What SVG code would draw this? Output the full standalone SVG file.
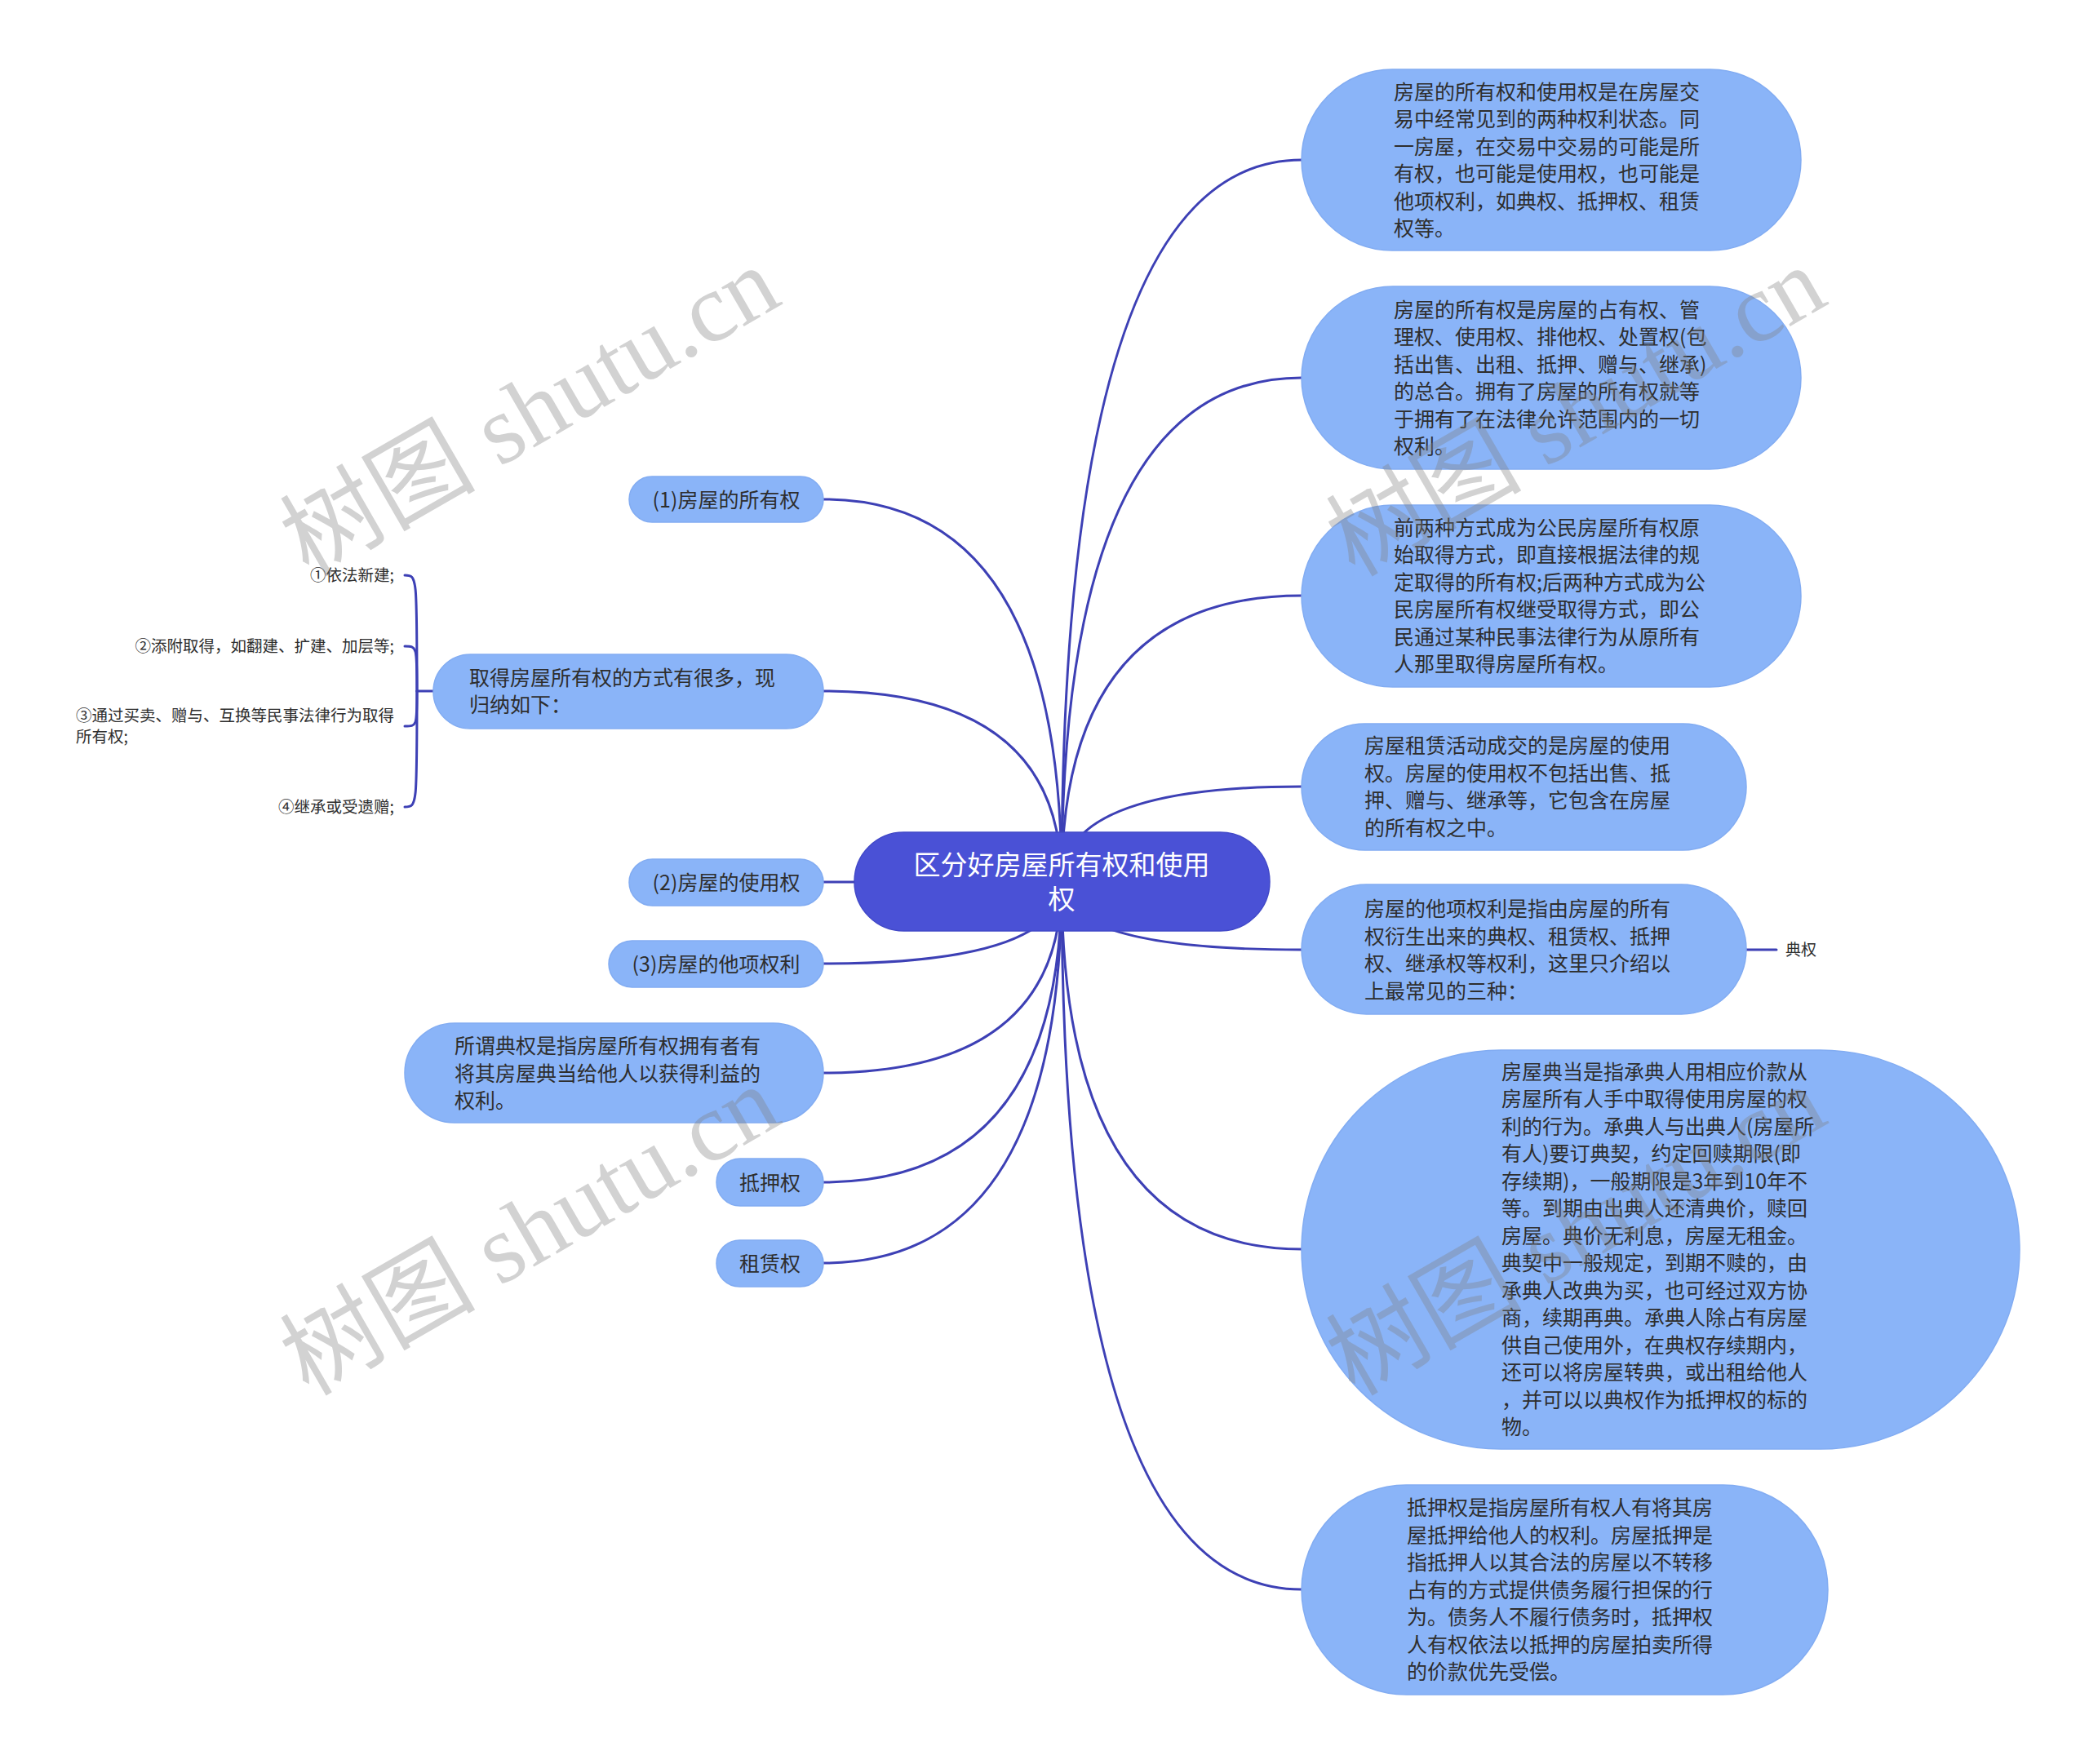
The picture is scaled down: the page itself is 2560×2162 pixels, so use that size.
<svg xmlns="http://www.w3.org/2000/svg" width="2560" height="2162" viewBox="0 0 2560 2162">
<style>
.bg{fill:#ffffff}
.edge{fill:none;stroke:#3d40b5;stroke-width:3;stroke-linecap:round}
.node{fill:#8ab4f8;stroke:#82acf2;stroke-width:1.5}
.root{fill:#4a51d6;stroke:#4249c8;stroke-width:1.5}
.t{font-family:"Noto Sans CJK SC","Liberation Sans",sans-serif;font-size:25px;fill:#2e2e2e}
.tc{text-anchor:middle}
.rt{font-family:"Noto Sans CJK SC","Liberation Sans",sans-serif;font-size:33px;fill:#ffffff;text-anchor:middle}
.st{font-family:"Noto Sans CJK SC","Liberation Sans",sans-serif;font-size:19.5px;fill:#2e2e2e}
.wm{font-size:120px;fill:#7f7f7f;opacity:0.35}
.wmc{font-family:"Noto Sans CJK SC",sans-serif}
.wms{font-family:"Liberation Serif",serif}
</style>
<rect class="bg" x="0" y="0" width="2560" height="2162"/>

<g id="connectors">
  <path class="edge" d="M1301,1081 Q1301,196 1595,196"/>
  <path class="edge" d="M1301,1081 Q1301,463 1595,463"/>
  <path class="edge" d="M1301,1081 Q1301,730 1595,730"/>
  <path class="edge" d="M1301,1081 Q1301,964 1595,964"/>
  <path class="edge" d="M1301,1081 Q1301,1164 1595,1164"/>
  <path class="edge" d="M1301,1081 Q1301,1531 1595,1531"/>
  <path class="edge" d="M1301,1081 Q1301,1948 1595,1948"/>
  <path class="edge" d="M1301,1081 Q1301,612 1009,612"/>
  <path class="edge" d="M1301,1081 Q1301,847 1009,847"/>
  <path class="edge" d="M1301,1081 L1009,1081"/>
  <path class="edge" d="M1301,1081 Q1301,1181 1009,1181"/>
  <path class="edge" d="M1301,1081 Q1301,1315 1009,1315"/>
  <path class="edge" d="M1301,1081 Q1301,1449 1009,1449"/>
  <path class="edge" d="M1301,1081 Q1301,1548 1009,1548"/>
  <path class="edge" d="M2140,1164 L2177,1164"/>
  <path class="edge" d="M531,847 L511,847"/>
  <path class="edge" d="M511,847 C511,705 511,705 496,705"/>
  <path class="edge" d="M511,847 C511,792 511,792 496,792"/>
  <path class="edge" d="M511,847 C511,890 511,890 496,890"/>
  <path class="edge" d="M511,847 C511,989 511,989 496,989"/>
</g>

<g id="root">
  <rect class="root" x="1047" y="1020" width="509" height="121" rx="60.5"/>
  <text class="rt" x="1301" y="1072">区分好房屋所有权和使用</text>
  <text class="rt" x="1301" y="1114">权</text>
</g>

<g id="r1">
  <rect class="node" x="1595" y="85" width="612" height="222" rx="111"/>
  <text class="t"><tspan x="1708" y="121.75">房屋的所有权和使用权是在房屋交</tspan><tspan x="1708" dy="33.5">易中经常见到的两种权利状态。同</tspan><tspan x="1708" dy="33.5">一房屋，在交易中交易的可能是所</tspan><tspan x="1708" dy="33.5">有权，也可能是使用权，也可能是</tspan><tspan x="1708" dy="33.5">他项权利，如典权、抵押权、租赁</tspan><tspan x="1708" dy="33.5">权等。</tspan></text>
</g>

<g id="r2">
  <rect class="node" x="1595" y="351" width="612" height="224" rx="112"/>
  <text class="t"><tspan x="1708" y="388.75">房屋的所有权是房屋的占有权、管</tspan><tspan x="1708" dy="33.5">理权、使用权、排他权、处置权(包</tspan><tspan x="1708" dy="33.5">括出售、出租、抵押、赠与、继承)</tspan><tspan x="1708" dy="33.5">的总合。拥有了房屋的所有权就等</tspan><tspan x="1708" dy="33.5">于拥有了在法律允许范围内的一切</tspan><tspan x="1708" dy="33.5">权利。</tspan></text>
</g>

<g id="r3">
  <rect class="node" x="1595" y="619" width="612" height="223" rx="111.5"/>
  <text class="t"><tspan x="1708" y="655.75">前两种方式成为公民房屋所有权原</tspan><tspan x="1708" dy="33.5">始取得方式，即直接根据法律的规</tspan><tspan x="1708" dy="33.5">定取得的所有权;后两种方式成为公</tspan><tspan x="1708" dy="33.5">民房屋所有权继受取得方式，即公</tspan><tspan x="1708" dy="33.5">民通过某种民事法律行为从原所有</tspan><tspan x="1708" dy="33.5">人那里取得房屋所有权。</tspan></text>
</g>

<g id="r4">
  <rect class="node" x="1595" y="887" width="545" height="155" rx="77.5"/>
  <text class="t"><tspan x="1672" y="923.25">房屋租赁活动成交的是房屋的使用</tspan><tspan x="1672" dy="33.5">权。房屋的使用权不包括出售、抵</tspan><tspan x="1672" dy="33.5">押、赠与、继承等，它包含在房屋</tspan><tspan x="1672" dy="33.5">的所有权之中。</tspan></text>
</g>

<g id="r5">
  <rect class="node" x="1595" y="1084" width="545" height="159" rx="79.5"/>
  <text class="t"><tspan x="1672" y="1123.25">房屋的他项权利是指由房屋的所有</tspan><tspan x="1672" dy="33.5">权衍生出来的典权、租赁权、抵押</tspan><tspan x="1672" dy="33.5">权、继承权等权利，这里只介绍以</tspan><tspan x="1672" dy="33.5">上最常见的三种：</tspan></text>
</g>

<g id="r5a">
  <text class="st" x="2188" y="1171" style="font-size:19px">典权</text>
</g>

<g id="r6">
  <rect class="node" x="1595" y="1287" width="880" height="489" rx="244.5"/>
  <text class="t"><tspan x="1840" y="1322.75">房屋典当是指承典人用相应价款从</tspan><tspan x="1840" dy="33.5">房屋所有人手中取得使用房屋的权</tspan><tspan x="1840" dy="33.5">利的行为。承典人与出典人(房屋所</tspan><tspan x="1840" dy="33.5">有人)要订典契，约定回赎期限(即</tspan><tspan x="1840" dy="33.5">存续期)，一般期限是3年到10年不</tspan><tspan x="1840" dy="33.5">等。到期由出典人还清典价，赎回</tspan><tspan x="1840" dy="33.5">房屋。典价无利息，房屋无租金。</tspan><tspan x="1840" dy="33.5">典契中一般规定，到期不赎的，由</tspan><tspan x="1840" dy="33.5">承典人改典为买，也可经过双方协</tspan><tspan x="1840" dy="33.5">商，续期再典。承典人除占有房屋</tspan><tspan x="1840" dy="33.5">供自己使用外，在典权存续期内，</tspan><tspan x="1840" dy="33.5">还可以将房屋转典，或出租给他人</tspan><tspan x="1840" dy="33.5">，并可以以典权作为抵押权的标的</tspan><tspan x="1840" dy="33.5">物。</tspan></text>
</g>

<g id="r7">
  <rect class="node" x="1595" y="1820" width="645" height="257" rx="128.5"/>
  <text class="t"><tspan x="1724" y="1857">抵押权是指房屋所有权人有将其房</tspan><tspan x="1724" dy="33.5">屋抵押给他人的权利。房屋抵押是</tspan><tspan x="1724" dy="33.5">指抵押人以其合法的房屋以不转移</tspan><tspan x="1724" dy="33.5">占有的方式提供债务履行担保的行</tspan><tspan x="1724" dy="33.5">为。债务人不履行债务时，抵押权</tspan><tspan x="1724" dy="33.5">人有权依法以抵押的房屋拍卖所得</tspan><tspan x="1724" dy="33.5">的价款优先受偿。</tspan></text>
</g>

<g id="l1">
  <rect class="node" x="771" y="584" width="238" height="56" rx="28"/>
  <text class="t tc" x="890" y="621.5">(1)房屋的所有权</text>
</g>

<g id="l2">
  <rect class="node" x="531" y="802" width="478" height="91" rx="45.5"/>
  <text class="t"><tspan x="575" y="839.75">取得房屋所有权的方式有很多，现</tspan><tspan x="575" dy="33.5">归纳如下：</tspan></text>
</g>

<g id="l2a">
  <text class="st" x="483" y="712.4" text-anchor="end">①依法新建;</text>
</g>
<g id="l2b">
  <text class="st" x="483" y="799.4" text-anchor="end">②添附取得，如翻建、扩建、加层等;</text>
</g>
<g id="l2c">
  <text class="st"><tspan x="93" y="884.4">③通过买卖、赠与、互换等民事法律行为取得</tspan><tspan x="93" dy="26">所有权;</tspan></text>
</g>
<g id="l2d">
  <text class="st" x="483" y="996.4" text-anchor="end">④继承或受遗赠;</text>
</g>

<g id="l3">
  <rect class="node" x="771" y="1053" width="238" height="57" rx="28.5"/>
  <text class="t tc" x="890" y="1090.5">(2)房屋的使用权</text>
</g>

<g id="l4">
  <rect class="node" x="746" y="1153" width="263" height="57" rx="28.5"/>
  <text class="t tc" x="877.5" y="1190.5">(3)房屋的他项权利</text>
</g>

<g id="l5">
  <rect class="node" x="496" y="1254" width="513" height="122" rx="61"/>
  <text class="t"><tspan x="557" y="1291">所谓典权是指房屋所有权拥有者有</tspan><tspan x="557" dy="33.5">将其房屋典当给他人以获得利益的</tspan><tspan x="557" dy="33.5">权利。</tspan></text>
</g>

<g id="l6">
  <rect class="node" x="878" y="1420" width="131" height="58" rx="29"/>
  <text class="t tc" x="943.5" y="1458.5">抵押权</text>
</g>

<g id="l7">
  <rect class="node" x="878" y="1520" width="131" height="57" rx="28.5"/>
  <text class="t tc" x="943.5" y="1557.5">租赁权</text>
</g>

<g id="watermark">
  <text class="wm" transform="translate(378,708) rotate(-30)"><tspan class="wmc">树图</tspan><tspan class="wms"> shutu.cn</tspan></text>
  <text class="wm" transform="translate(378,1712) rotate(-30)"><tspan class="wmc">树图</tspan><tspan class="wms"> shutu.cn</tspan></text>
  <text class="wm" transform="translate(1660,708) rotate(-30)"><tspan class="wmc">树图</tspan><tspan class="wms"> shutu.cn</tspan></text>
  <text class="wm" transform="translate(1660,1712) rotate(-30)"><tspan class="wmc">树图</tspan><tspan class="wms"> shutu.cn</tspan></text>
</g>
</svg>
